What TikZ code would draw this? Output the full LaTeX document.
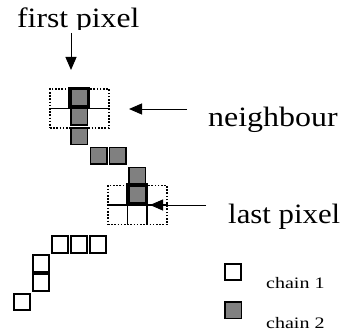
\documentclass[tikz,border=0pt]{standalone}
\usepackage{fontspec}
\setmainfont{Liberation Serif}
\usetikzlibrary{arrows.meta}
\begin{document}
\begin{tikzpicture}[x=1pt,y=-1pt,
  gsq/.style={draw=black,fill=gray,line width=1.5pt,minimum size=16.5pt,inner sep=0pt},
  wsq/.style={draw=black,fill=white,line width=1.8pt,minimum size=16.5pt,inner sep=0pt},
  thk/.style={draw=black,fill=gray,line width=3.5pt,minimum size=18.5pt,inner sep=0pt},
  dotbox/.style={draw=black,line width=1.6pt,dash pattern=on 1.6pt off 1.6pt,minimum width=59pt,minimum height=39pt,inner sep=0pt},
  gridline/.style={draw=black,line width=1.5pt},
  arr/.style={line width=1pt,-{Triangle[length=13pt,width=11pt]}},
  big/.style={inner sep=0pt,anchor=base west,font=\fontsize{28}{30}\selectfont},
  small/.style={inner sep=0pt,anchor=base west,font=\fontsize{16}{18}\selectfont}]
\fill[white] (0,0) rectangle (344,334);
\useasboundingbox (0,0) rectangle (344,334);

% neighbourhood boxes
\node[dotbox] (nb1) at (79.5,108.5) {};
\draw[gridline] (nb1.west) -- (nb1.east);
\node[dotbox] (nb2) at (137.5,205) {};
\draw[gridline] (nb2.west) -- (nb2.east);
\draw[gridline] ([xshift=-10pt]nb2.center) -- ([xshift=-10pt]nb2.south);
\draw[gridline] ([xshift=9.5pt]nb2.center) -- ([xshift=9.5pt]nb2.south);

% chain 2 (grey)
\node[gsq] (g2) at (79,116.5) {};
\node[gsq] (g3) at (79,136) {};
\node[gsq] (g4) at (98.5,155.5) {};
\node[gsq] (g5) at (117.5,155.5) {};
\node[gsq] (g6) at (137,175.5) {};
\node[thk] (g1) at (79,97.5) {};
\node[thk] (g7) at (137,194) {};

% chain 1 (white)
\node[wsq] (w1) at (60,244.5) {};
\node[wsq] (w2) at (79,244.5) {};
\node[wsq] (w3) at (98,244.5) {};
\node[wsq] (w4) at (41,263.5) {};
\node[wsq] (w5) at (41,282.5) {};
\node[wsq] (w6) at (22,302) {};

% labels
\begin{scope}
\clip (0,0) rectangle (344,29.5);
\node[big] (fp) at (17,28) {\scalebox{1.13}[1]{first pixel}};
\end{scope}
\node[big] (nl) at (208,126) {\scalebox{1.14}[1]{neighbour}};
\node[big] (lp) at (228,223) {\scalebox{1.1}[1]{last pixel}};

% arrows
\coordinate (fpa) at (71,33);
\coordinate (fpb) at (71,70);
\draw[arr] (fpa) -- (fpb);
\coordinate (nla) at (187,109);
\coordinate (nlb) at (129,109);
\draw[arr] (nla) -- (nlb);
\coordinate (lpa) at (206,205);
\coordinate (lpb) at (150,205);
\draw[arr] (lpa) -- (lpb);

% legend
\node[wsq] (l1) at (233,272) {};
\node[gsq] (l2) at (233,310) {};
\node[small] (c1) at (266,288) {\scalebox{1.25}[1]{chain 1}};
\node[small] (c2) at (266,328) {\scalebox{1.25}[1]{chain 2}};
\end{tikzpicture}
\end{document}
